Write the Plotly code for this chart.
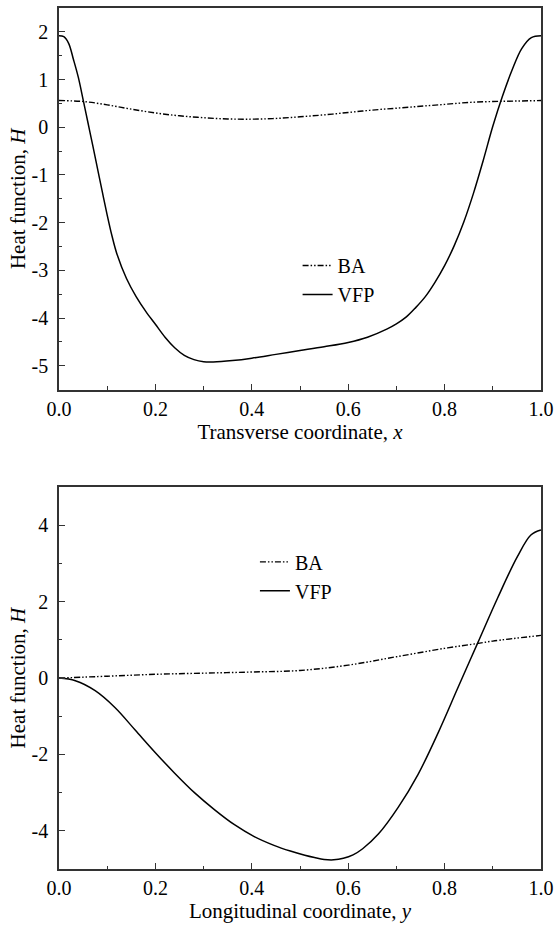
import plotly.graph_objects as go

# ---- data ----
x_top_vfp = [0, 0.01, 0.02, 0.03, 0.04, 0.05, 0.06, 0.07, 0.08, 0.09, 0.10, 0.11, 0.12, 0.14, 0.16,
             0.18, 0.20, 0.22, 0.24, 0.26, 0.28, 0.30, 0.32, 0.36, 0.40, 0.45, 0.50, 0.55, 0.60, 0.64,
             0.68, 0.70, 0.72, 0.74, 0.76, 0.78, 0.80, 0.82, 0.84, 0.86, 0.88, 0.90, 0.92, 0.94, 0.96,
             0.98, 1.0]
h_top_vfp = [1.92, 1.90, 1.76, 1.42, 1.05, 0.58, 0.10, -0.38, -0.87, -1.36, -1.84, -2.28, -2.65, -3.17,
             -3.55, -3.86, -4.13, -4.40, -4.62, -4.78, -4.87, -4.915, -4.92, -4.89, -4.84, -4.76, -4.68,
             -4.60, -4.51, -4.40, -4.23, -4.12, -3.98, -3.78, -3.55, -3.25, -2.90, -2.48, -1.98, -1.38,
             -0.70, 0.02, 0.65, 1.20, 1.65, 1.88, 1.92]

x_top_ba = [0, 0.05, 0.1, 0.15, 0.2, 0.25, 0.3, 0.35, 0.4, 0.45, 0.5, 0.55, 0.6, 0.65, 0.7, 0.75,
            0.8, 0.85, 0.9, 0.95, 1.0]
h_top_ba = [0.56, 0.54, 0.47, 0.38, 0.30, 0.24, 0.20, 0.175, 0.17, 0.185, 0.22, 0.26, 0.31, 0.36,
            0.40, 0.44, 0.48, 0.52, 0.54, 0.55, 0.56]

x_bot_vfp = [0, 0.034, 0.075, 0.116, 0.158, 0.199, 0.240, 0.281, 0.323, 0.364, 0.405, 0.446, 0.48,
             0.51, 0.53, 0.55, 0.57, 0.59, 0.61, 0.63, 0.663, 0.704, 0.745, 0.787, 0.828, 0.869, 0.910,
             0.951, 0.979, 1.0]
h_bot_vfp = [0, -0.07, -0.33, -0.77, -1.36, -1.94, -2.49, -3.00, -3.45, -3.84, -4.15, -4.38, -4.53,
             -4.64, -4.70, -4.75, -4.76, -4.72, -4.63, -4.47, -4.08, -3.38, -2.52, -1.42, -0.24, 0.93,
             2.10, 3.18, 3.75, 3.88]

x_bot_ba = [0, 0.1, 0.2, 0.3, 0.4, 0.5, 0.6, 0.7, 0.8, 0.87, 0.9, 1.0]
h_bot_ba = [0.0, 0.05, 0.10, 0.13, 0.16, 0.20, 0.34, 0.56, 0.78, 0.91, 0.97, 1.12]

x_ticks = [0.0, 0.2, 0.4, 0.6, 0.8, 1.0]
x_ticklabels = ["0.0", "0.2", "0.4", "0.6", "0.8", "1.0"]
y_top_ticks = [2, 1, 0, -1, -2, -3, -4, -5]
y_top_labels = ["2", "1", "0", "-1", "-2", "-3", "-4", "-5"]
y_bot_ticks = [4, 2, 0, -2, -4]
y_bot_labels = ["4", "2", "0", "-2", "-4"]

FONT = "Liberation Serif, Times New Roman, serif"
BA_DASH = "6px,2px,1.5px,2px,1.5px,2px"
SMOOTH = 1.0

fig = go.Figure()
fig.add_trace(go.Scatter(x=x_top_ba, y=h_top_ba, name="BA", mode="lines",
                         line=dict(color="black", width=1.4, dash=BA_DASH, shape="spline", smoothing=SMOOTH),
                         xaxis="x", yaxis="y", legend="legend"))
fig.add_trace(go.Scatter(x=x_top_vfp, y=h_top_vfp, name="VFP", mode="lines",
                         line=dict(color="black", width=1.5, shape="spline", smoothing=SMOOTH),
                         xaxis="x", yaxis="y", legend="legend"))
fig.add_trace(go.Scatter(x=x_bot_ba, y=h_bot_ba, name="BA", mode="lines",
                         line=dict(color="black", width=1.4, dash=BA_DASH, shape="spline", smoothing=SMOOTH),
                         xaxis="x2", yaxis="y2", legend="legend2"))
fig.add_trace(go.Scatter(x=x_bot_vfp, y=h_bot_vfp, name="VFP", mode="lines",
                         line=dict(color="black", width=1.5, shape="spline", smoothing=SMOOTH),
                         xaxis="x2", yaxis="y2", legend="legend2"))

common = dict(showline=True, linecolor="#333", linewidth=1.7, mirror=True, ticks="inside",
              ticklen=6, tickwidth=1.3, tickcolor="#333", showgrid=False, zeroline=False,
              tickfont=dict(family=FONT, size=20, color="black"))
minor_x = dict(ticks="inside", dtick=0.1, ticklen=3.5, tickcolor="#333", tickwidth=1.2)

top_dom = [0.5567, 1.0]
bot_dom = [0.0, 0.4434]
TITLE_FONT = dict(family=FONT, size=21, color="black")

fig.update_layout(
    width=560, height=926,
    margin=dict(l=59, r=16.5, t=6.5, b=56.7),
    paper_bgcolor="white", plot_bgcolor="white",
    showlegend=True,
    font=dict(family=FONT, size=20, color="black"),
    xaxis=dict(domain=[0, 1], anchor="y", range=[0, 1], tickvals=x_ticks, ticktext=x_ticklabels,
               minor=minor_x,
               title=dict(text="Transverse coordinate, <i>x</i>", standoff=5, font=TITLE_FONT), **common),
    yaxis=dict(domain=top_dom, anchor="x", range=[-5.5, 2.5], tickvals=y_top_ticks, ticktext=y_top_labels,
               minor=dict(ticks="inside", dtick=0.5, ticklen=3.5, tickcolor="#333", tickwidth=1.2),
               title=dict(text="Heat function, <i>H</i>", standoff=0, font=TITLE_FONT),
               ticklabelstandoff=5, **common),
    xaxis2=dict(domain=[0, 1], anchor="y2", range=[0, 1], tickvals=x_ticks, ticktext=x_ticklabels,
                minor=minor_x,
                title=dict(text="Longitudinal coordinate, <i>y</i>", standoff=2, font=TITLE_FONT), **common),
    yaxis2=dict(domain=bot_dom, anchor="x2", range=[-5, 5], tickvals=y_bot_ticks, ticktext=y_bot_labels,
                minor=dict(ticks="inside", dtick=1, ticklen=3.5, tickcolor="#333", tickwidth=1.2),
                title=dict(text="Heat function, <i>H</i>", standoff=0, font=TITLE_FONT),
                ticklabelstandoff=5, **common),
    legend=dict(x=0.495, y=0.7236, xanchor="left", yanchor="top", bgcolor="rgba(0,0,0,0)",
                font=dict(family=FONT, size=20), tracegroupgap=0, itemwidth=30),
    legend2=dict(x=0.4065, y=0.3794, xanchor="left", yanchor="top", bgcolor="rgba(0,0,0,0)",
                 font=dict(family=FONT, size=20), tracegroupgap=0, itemwidth=30),
)

fig.write_html("out.html")
